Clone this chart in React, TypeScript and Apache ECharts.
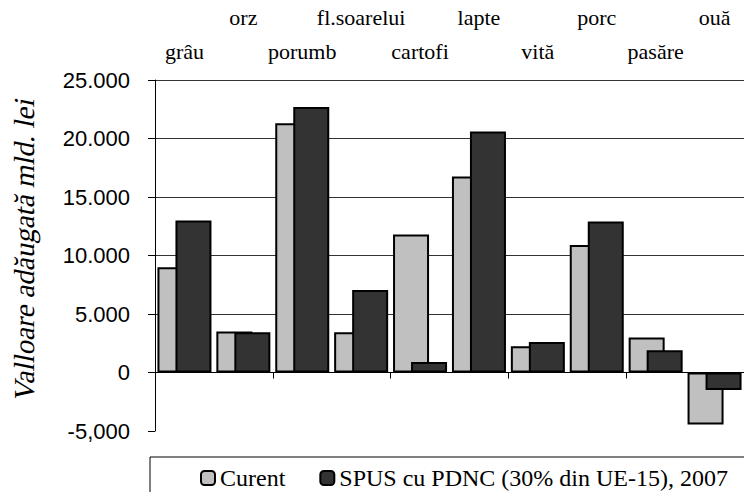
import React, { useEffect, useRef } from "react";
import * as echarts from "echarts";

const categories = ["grâu", "orz", "porumb", "fl.soarelui", "cartofi", "lapte", "vită", "porc", "pasăre", "ouă"];
const curent = [9000, 3500, 21300, 3450, 11800, 16750, 2250, 10900, 3000, -4450];
const spus = [13000, 3450, 22700, 7050, 900, 20600, 2600, 12900, 1900, -1500];
const yTickValues = [-5000, 0, 5000, 10000, 15000, 20000, 25000];
const yTickLabels = ["-5,000", "0", "5.000", "10.000", "15.000", "20.000", "25.000"];
const seriesNames = ["Curent", "SPUS cu PDNC (30% din UE-15), 2007"];
const yTitle = "Valloare adăugată mld. lei";

export default function App() {
  const ref = useRef<HTMLDivElement>(null);
  useEffect(() => {
    if (!ref.current) return;
    const chart = echarts.init(ref.current, null, { renderer: "svg" });
    const serif = "Liberation Serif";
    const sans = "Liberation Sans";
    chart.setOption({
      animation: false,
      backgroundColor: "#ffffff",
      grid: { left: 155, top: 80, bottom: 61, right: -11, containLabel: false },
      legend: {
        left: 195,
        top: 461,
        itemWidth: 14,
        itemHeight: 14,
        itemGap: 34,
        textStyle: { fontFamily: serif, fontSize: 24, color: "#000" },
        data: seriesNames,
      },
      graphic: [
        {
          type: "rect",
          shape: { x: 150, y: 457, width: 700, height: 80 },
          style: { fill: "none", stroke: "#000", lineWidth: 1 },
          silent: true,
          z: -1,
        },
      ],
      xAxis: [
        {
          type: "category",
          data: categories,
          position: "bottom",
          axisLine: { onZero: true, lineStyle: { color: "#000", width: 1 } },
          axisTick: { show: true, length: 6, lineStyle: { color: "#000" } },
          axisLabel: { show: false },
          splitLine: { show: false },
        },
        {
          type: "category",
          data: categories,
          position: "top",
          axisLine: { show: false },
          axisTick: { show: false },
          axisLabel: {
            interval: 0,
            margin: 18,
            fontFamily: serif,
            fontSize: 22,
            color: "#000",
            formatter: (v: string, i: number) => (i % 2 === 1 ? `{hi|${v}}` : `{lo|${v}}`),
            rich: {
              hi: { fontFamily: serif, fontSize: 22, color: "#000", padding: [0, 0, 34, 0] },
              lo: { fontFamily: serif, fontSize: 22, color: "#000" },
            },
          },
        },
      ],
      yAxis: {
        type: "value",
        min: -5000,
        max: 25000,
        interval: 5000,
        axisLine: { show: true, lineStyle: { color: "#000", width: 1 } },
        axisTick: { show: true, length: 7, lineStyle: { color: "#000" } },
        axisLabel: {
          margin: 25,
          fontFamily: sans,
          fontSize: 22,
          color: "#000",
          formatter: (v: number) => {
            const idx = yTickValues.indexOf(v);
            return idx >= 0 ? yTickLabels[idx] : "";
          },
        },
        splitLine: {
          show: true,
          lineStyle: {
            color: ["rgba(0,0,0,0)", "#333", "#333", "#333", "#333", "#333", "#333"],
            width: 1,
          },
        },
      },
      series: [
        {
          name: seriesNames[0],
          type: "bar",
          data: curent,
          barWidth: 36,
          barGap: "-50%",
          itemStyle: { color: "#c0c0c0", borderColor: "#000", borderWidth: 2 },
        },
        {
          name: seriesNames[1],
          type: "bar",
          data: spus,
          barWidth: 36,
          barGap: "-50%",
          itemStyle: { color: "#333333", borderColor: "#000", borderWidth: 2 },
        },
      ],
    });
    // Axis title: serif with a slant (skew) to imitate the italic face
    const title = new (echarts.graphic as any).Text({
      x: 24,
      y: 249,
      rotation: Math.PI / 2,
      skewX: -0.2,
      silent: true,
      z: 10,
      style: {
        text: yTitle,
        fontFamily: serif,
        fontSize: 29,
        fill: "#000",
        align: "center",
        verticalAlign: "middle",
      },
    });
    chart.getZr().add(title);
    return () => chart.dispose();
  }, []);
  return <div ref={ref} style={{ width: 744, height: 492, position: "absolute", left: 0, top: 0 }} />;
}
